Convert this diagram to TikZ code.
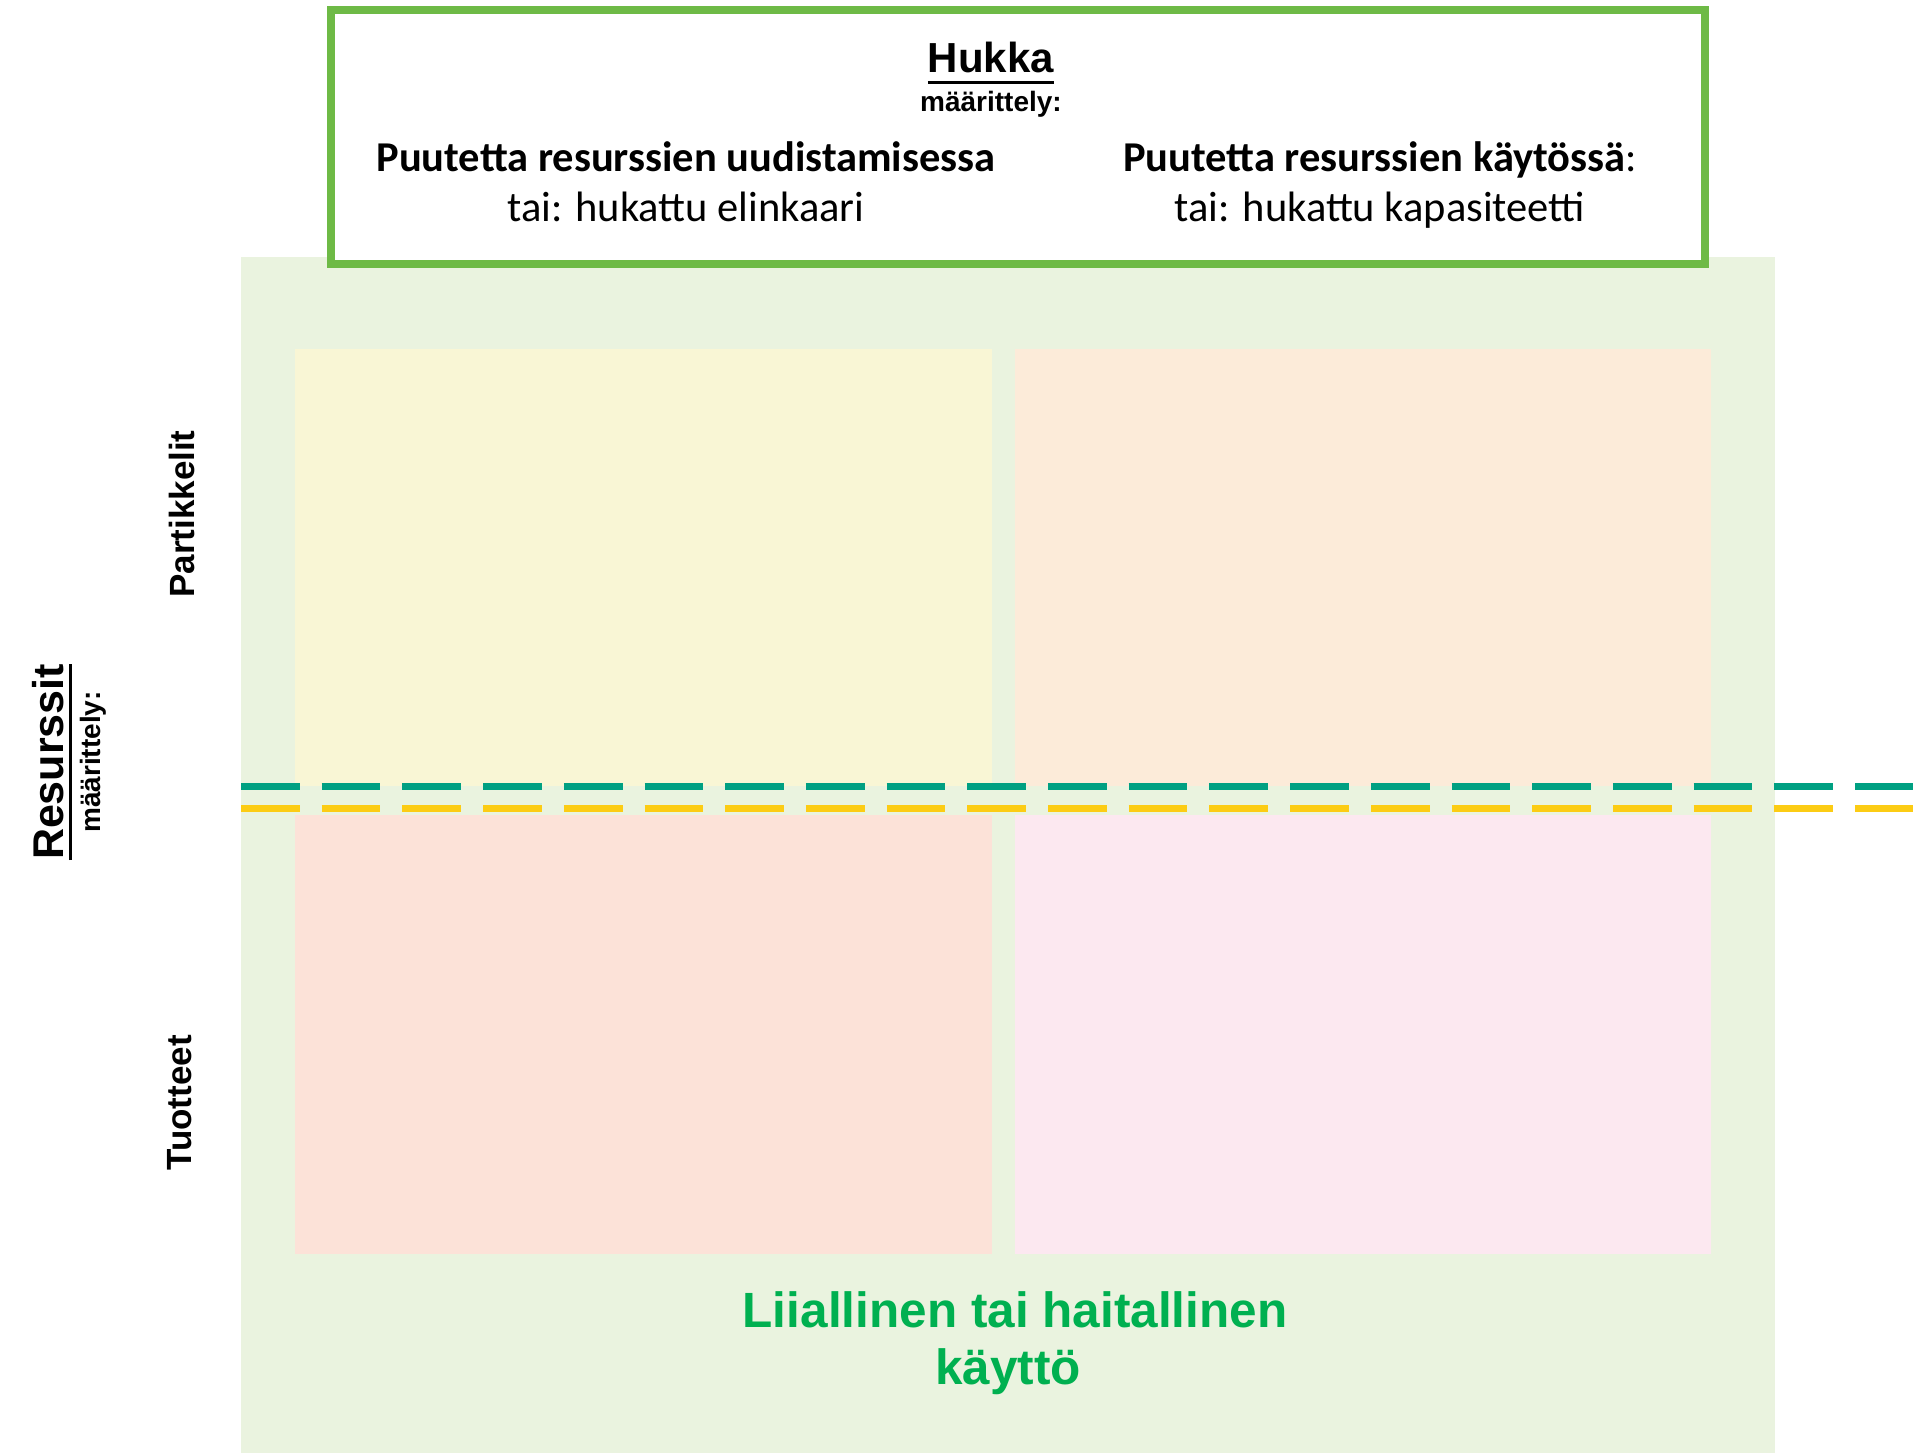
\documentclass[tikz,border=0pt]{standalone}
\usepackage{fontspec}
\setmainfont{Liberation Sans}
\newfontfamily\boxfont{Carlito}
\usetikzlibrary{calc}
\definecolor{bggreen}{RGB}{234,243,223}
\definecolor{quadyellow}{RGB}{249,246,213}
\definecolor{quadpeach}{RGB}{252,235,217}
\definecolor{quadsalmon}{RGB}{252,226,216}
\definecolor{quadpink}{RGB}{252,232,240}
\definecolor{framegreen}{RGB}{110,186,70}
\definecolor{dashteal}{RGB}{0,160,130}
\definecolor{dashyellow}{RGB}{252,204,20}
\definecolor{usegreen}{RGB}{0,176,80}
\tikzset{
  lbl/.style={inner sep=0pt, anchor=base},
  sidelbl/.style={lbl, rotate=90, font=\fontsize{35}{40}\selectfont\bfseries},
  boxhead/.style={lbl, font=\boxfont\fontsize{42.5}{48}\selectfont\bfseries},
  boxsub/.style={lbl, font=\boxfont\fontsize{42.5}{48}\selectfont},
  usetext/.style={lbl, text=usegreen, font=\fontsize{49.5}{56}\selectfont\bfseries},
  divider/.style={line width=7pt, dash pattern=on 58.7pt off 22pt}
}
\begin{document}
\begin{tikzpicture}[x=1pt,y=-1pt]
\useasboundingbox (0,0) rectangle (1913,1453);
% background panel
\fill[bggreen] (241,257) rectangle (1775,1453);
% four quadrants
\fill[quadyellow] (295,349) rectangle (992,786);
\fill[quadpeach]  (1015,349) rectangle (1711,786);
\fill[quadsalmon] (295,815) rectangle (992,1254);
\fill[quadpink]   (1015,815) rectangle (1711,1254);
% dividing dashed lines
\draw[divider, dashteal]   (241,786) -- (1913,786);
\draw[divider, dashyellow] (241,808) -- (1913,808);
% definition frame at the top
\draw[framegreen, fill=white, line width=8pt] (331,10) rectangle (1705,264);
\node[lbl, font=\fontsize{42}{50}\selectfont\bfseries] (hukka) at (991,73) {Hukka};
\draw[line width=3pt] ($(hukka.base west)+(0,10)$) -- ($(hukka.base east)+(0,10)$);
\node[lbl, font=\fontsize{28}{32}\selectfont\bfseries] (hdef) at (991,112) {määrittely:};
\node[boxhead] (lh) at (686,171) {Puutetta resurssien uudistamisessa};
\node[boxsub]  (ls) at (686,221) {tai: hukattu elinkaari};
\node[boxhead] (rh) at (1380,171) {Puutetta resurssien käytössä{\mdseries:}};
\node[boxsub]  (rs) at (1380,221) {tai: hukattu kapasiteetti};
% vertical labels
\node[lbl, rotate=90, font=\fontsize{43}{50}\selectfont\bfseries] (res) at (63,762) {Resurssit};
\draw[line width=3pt] ($(res.base west)+(7,0)$) -- ($(res.base east)+(7,0)$);
\node[lbl, rotate=90, font=\fontsize{28}{32}\selectfont\bfseries] (rdef) at (100,762) {määrittely:};
\node[sidelbl] (part) at (194,514) {Partikkelit};
\node[sidelbl] (tuot) at (191,1103) {Tuotteet};
% bottom caption
\node[usetext] (use1) at (1015,1327) {Liiallinen tai haitallinen};
\node[usetext] (use2) at (1008,1384) {käyttö};
\end{tikzpicture}
\end{document}
